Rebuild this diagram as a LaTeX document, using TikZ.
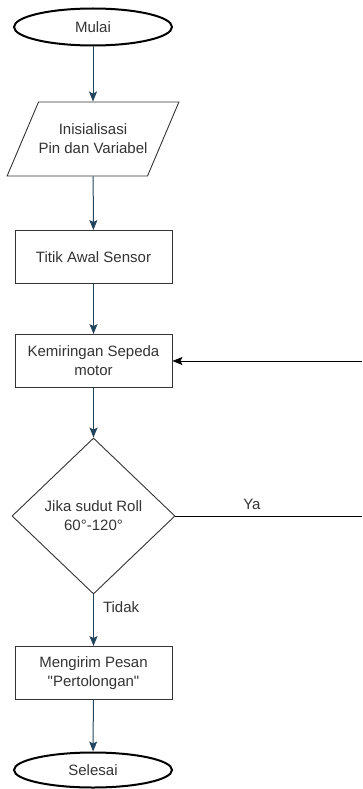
\documentclass[tikz,border=0pt]{standalone}
\usepackage{fontspec}
\setmainfont{Liberation Sans}
\usepackage{xcolor}
\usepackage{tikz}
\usetikzlibrary{arrows.meta}
\usetikzlibrary{shapes.geometric}
\usetikzlibrary{positioning}

\definecolor{flowblue}{HTML}{23445D}
\definecolor{inkgray}{HTML}{333333}

\tikzset{
    base/.style={draw=inkgray, text=inkgray, align=center, inner sep=0pt,
        font=\fontsize{15}{19}\selectfont},
    terminal/.style={base, ellipse, line width=2pt, draw=black,
        minimum width=158pt, minimum height=37pt},
    inputbox/.style={base, trapezium, trapezium left angle=67, trapezium right angle=113,
        inner xsep=0pt, inner ysep=22pt, line width=0.9pt},
    process/.style={base, rectangle, minimum width=157pt, minimum height=53pt, line width=0.9pt},
    decision/.style={base, diamond, minimum width=163pt, minimum height=156pt, line width=0.9pt},
    flow/.style={draw=flowblue, line width=1pt, -{Stealth[length=10pt,width=8pt,inset=2pt]}},
    backflow/.style={draw=black, line width=0.8pt},
    label/.style={text=inkgray, font=\fontsize{15}{19}\selectfont, inner sep=0pt}
}

\begin{document}
\begin{tikzpicture}[x=1pt,y=-1pt]
        \useasboundingbox (0,0) rectangle (362,789);
        \node[terminal] (start) at (93,27) {Mulai};
        \node[inputbox] (init) at (93,139) {Inisialisasi\\Pin dan Variabel};
        \node[process] (sensor) at (93.5,257) {Titik Awal Sensor};
        \node[process] (tilt) at (93.5,361) {Kemiringan Sepeda\\motor};
        \node[decision] (check) at (93.5,516) {Jika sudut Roll\\60°-120°};
        \node[process] (send) at (93.5,673) {Mengirim Pesan\\\textquotedbl Pertolongan\textquotedbl};
        \node[terminal, minimum height=35pt] (finish) at (93,770) {Selesai};
        \coordinate (yaend) at (362,516);
        \coordinate (backin) at (362,361);

        \draw[flow] (start) -- (init);
        \draw[flow] (init) -- (sensor);
        \draw[flow] (sensor) -- (tilt);
        \draw[flow] (tilt) -- (check);
        \draw[flow] (check) -- node[label, anchor=west, pos=0.25, xshift=9pt] (no) {Tidak} (send);
        \draw[flow] (send) -- (finish);
        \draw[backflow] (check.east) -- node[label, above=6pt, pos=0.41] (yes) {Ya} (yaend);
        \draw[backflow, -{Stealth[length=10pt,width=8pt,inset=2pt]}] (backin) -- (tilt.east);
    \end{tikzpicture}
\end{document}
